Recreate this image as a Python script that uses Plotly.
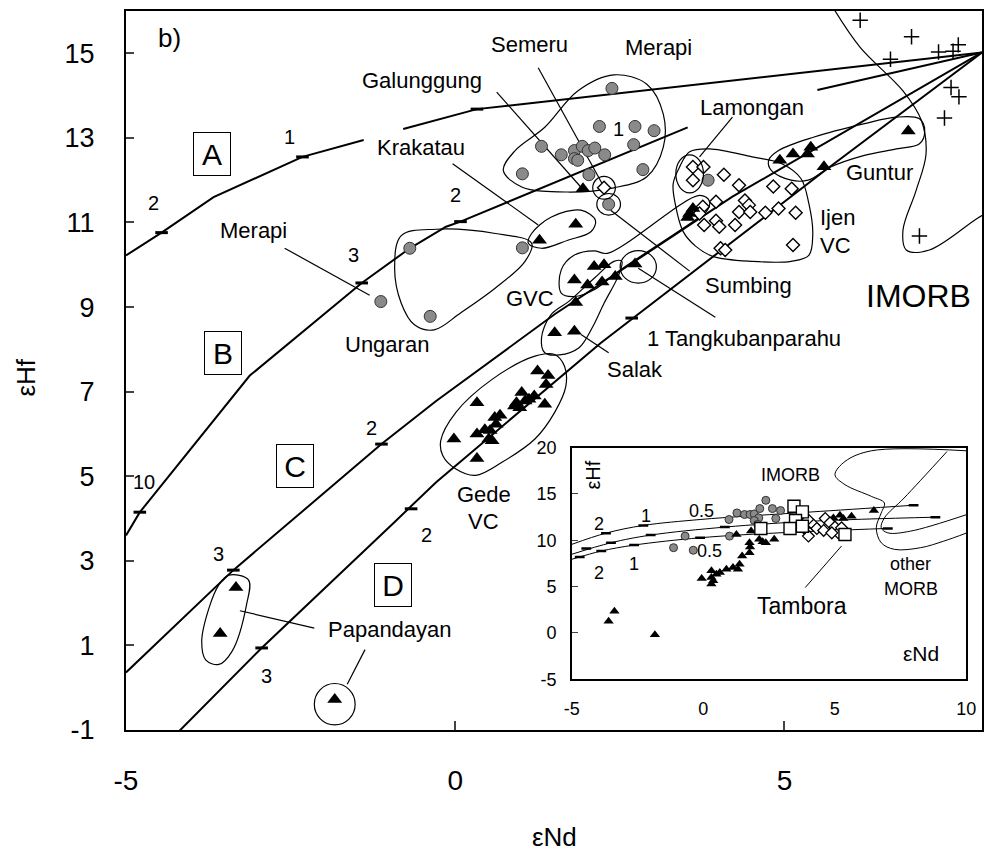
import plotly.graph_objects as go

FONT = "Liberation Sans, Arial, sans-serif"

# ---------------- main panel data ----------------
X_TICKS = [-5, 0, 5]
X_TICK_TEXT = ["-5", "0", "5"]
Y_TICKS = [-1, 1, 3, 5, 7, 9, 11, 13, 15]
Y_TICK_TEXT = ["-1", "1", "3", "5", "7", "9", "11", "13", "15"]

# mixing curves (None = break for labels)
CURVE1_X = [-5.0, -4.46, -3.67, -2.32, -1.39, None, -0.79, 0.33, 8.0]
CURVE1_Y = [10.22, 10.76, 11.6, 12.55, 12.95, None, 13.21, 13.68, 15.02]
CURVE2_X = [-5.0, -4.79, -3.12, -1.42, -0.69, -0.14, 0.08, 1.51, 3.53, None, 5.50, 8.0]
CURVE2_Y = [3.60, 4.15, 7.38, 9.57, 10.39, 10.9, 11.02, 11.94, 13.25, None, 14.13, 15.02]
CURVE3_X = [-5.0, -3.37, -1.12, -0.29, 1.51, 2.90, 4.21, 8.0]
CURVE3_Y = [0.36, 2.78, 5.76, 6.78, 8.83, 10.27, 11.61, 15.02]
CURVE4_X = [-4.29, -2.94, -0.92, -0.29, 2.21, 5.55, 8.0]
CURVE4_Y = [-1.18, 0.94, 3.92, 4.86, 8.15, 12.15, 15.02]

# tick dashes on curves
CTICK_X = [-4.46, -2.32, 0.33, -4.79, -1.42, 0.08, -3.37, -1.12, -2.94, -0.67, 2.68]
CTICK_Y = [10.76, 12.55, 13.68, 4.15, 9.57, 11.02, 2.78, 5.76, 0.94, 4.23, 8.74]
CTICK_LABELS = ["2", "1", "3", "2", "1", "10", "2", "3", "2", "3"]
CTICK_LX = [-4.59, -2.52, -1.54, 0.01, 2.48, -4.72, -1.27, -3.60, -0.44, -2.86]
CTICK_LY = [11.46, 13.02, 10.23, 11.64, 13.21, 4.86, 6.15, 3.17, 3.60, 0.27]

GREY_X = [2.38, 2.19, 2.73, 3.02, 1.31, 1.61, 1.81, 1.93, 2.02, 2.12, 1.81, 1.86,
          2.27, 2.71, 1.02, 2.03, 2.85, 2.33, 1.02, -0.69, -1.13, -0.38, 3.84]
GREY_Y = [14.17, 13.27, 13.27, 13.17, 12.80, 12.60, 12.70, 12.80, 12.70, 12.76, 12.51, 12.47,
          12.60, 12.84, 12.15, 12.13, 12.25, 11.43, 10.40, 10.39, 9.13, 8.78, 12.0]

TRI_X = [-3.33, -3.57, -1.83,
         1.25, 1.41, 1.38, 0.33, 1.01, 0.93, 1.06, 1.12, 0.90, 0.98, 1.36, 0.68, 0.60,
         0.62, 0.53, 0.33, 0.51, 0.56, -0.02, 0.33, 0.45, 1.20,
         1.51, 1.81, 1.83,
         2.11, 2.26, 1.81, 2.01, 2.23, 2.43,
         2.73, 1.28, 1.83, 1.94,
         3.56, 3.61, 3.53,
         4.93, 5.13, 5.35, 5.40, 5.60, 6.88]
TRI_Y = [2.37, 1.28, -0.28,
         7.49, 7.38, 7.17, 6.74, 6.98, 6.74, 6.78, 6.82, 6.66, 6.62, 6.70, 6.44, 6.39,
         6.23, 6.08, 6.00, 5.88, 5.84, 5.88, 5.42, 6.10, 6.90,
         8.39, 8.43, 9.11,
         9.96, 10.00, 9.64, 9.52, 9.59, 9.72,
         10.02, 10.58, 10.96, 11.80,
         11.21, 11.33, 11.12,
         12.47, 12.62, 12.62, 12.78, 12.32, 13.16]

DIA_X = [3.61, 3.77, 3.61, 4.08, 4.31, 3.96, 4.40, 4.46, 4.31, 4.48, 4.83, 5.11,
         3.76, 3.71, 3.96, 4.01, 3.78, 4.25, 4.71, 4.91, 5.17, 4.03, 4.10, 5.13, 2.26]
DIA_Y = [12.31, 12.31, 12.00, 12.13, 11.88, 11.49, 11.52, 11.41, 11.25, 11.25, 11.85, 11.80,
         11.37, 11.21, 11.04, 10.90, 10.94, 10.94, 11.23, 11.33, 11.23, 10.39, 10.35, 10.47, 11.82]

CROSS_X = [6.15, 6.93, 7.34, 7.56, 7.64, 6.61, 7.53, 7.65, 7.43, 7.05]
CROSS_Y = [15.78, 15.39, 15.03, 15.05, 15.20, 14.86, 14.19, 13.97, 13.47, 10.68]

# field outlines
MERAPI_OL_X = [2.41, 2.91, 3.16, 3.16, 2.91, 2.41, 1.71, 1.01, 0.73, 0.91, 1.36, 1.86, 2.41]
MERAPI_OL_Y = [14.49, 14.27, 13.56, 12.78, 12.08, 11.82, 11.72, 11.84, 12.23, 12.70, 13.25, 14.11, 14.49]
KRAKATAU_OL_X = [1.16, 1.46, 1.91, 2.13, 2.06, 1.71, 1.31, 1.11, 1.16]
KRAKATAU_OL_Y = [10.74, 11.13, 11.29, 11.05, 10.78, 10.58, 10.39, 10.51, 10.74]
UNGARAN_OL_X = [-0.82, -0.29, 0.61, 1.16, 1.06, 0.61, 0.08, -0.32, -0.62, -0.82, -0.92, -0.82]
UNGARAN_OL_Y = [10.69, 10.84, 10.74, 10.51, 10.08, 9.45, 8.86, 8.46, 8.58, 9.09, 9.92, 10.69]
GVC_OL_X = [1.61, 1.81, 2.11, 2.31, 3.71, 3.86, 3.83, 3.71, 2.51, 2.11, 1.81, 1.61, 1.61]
GVC_OL_Y = [9.88, 10.23, 10.33, 10.27, 11.64, 11.51, 11.29, 11.13, 9.88, 9.41, 9.25, 9.33, 9.88]
SALAK_OL_X = [1.31, 1.45, 1.73, 2.11, 2.41, 2.53, 2.48, 2.26, 2.08, 1.88, 1.58, 1.36, 1.31]
SALAK_OL_Y = [8.27, 8.81, 9.14, 9.68, 10.08, 10.08, 9.75, 9.09, 8.51, 8.04, 7.87, 7.92, 8.27]
GEDE_OL_X = [-0.22, 0.01, 0.56, 1.21, 1.51, 1.66, 1.68, 1.51, 1.21, 0.71, 0.31, 0.01, -0.19, -0.22]
GEDE_OL_Y = [5.84, 6.51, 7.29, 7.84, 7.88, 7.60, 7.13, 6.51, 5.88, 5.33, 5.02, 5.17, 5.49, 5.84]
PAPAND_OL_X = [-3.44, -3.14, -3.17, -3.39, -3.59, -3.79, -3.85, -3.74, -3.59, -3.44]
PAPAND_OL_Y = [2.66, 2.55, 1.96, 0.86, 0.55, 0.66, 1.09, 1.88, 2.43, 2.66]
IJEN_OL_X = [3.41, 3.56, 3.86, 4.51, 4.96, 5.25, 5.37, 5.43, 5.37, 5.10, 4.51, 3.91, 3.65, 3.46, 3.34, 3.31, 3.41]
IJEN_OL_Y = [12.32, 12.67, 12.74, 12.55, 12.39, 12.04, 11.45, 10.74, 10.22, 10.08, 10.08, 10.20, 10.44, 10.79, 11.45, 11.92, 12.32]
GUNTUR_OL_X = [4.76, 4.91, 5.45, 6.20, 6.70, 7.05, 7.13, 7.05, 6.70, 6.20, 5.70, 5.36, 5.10, 4.80, 4.76]
GUNTUR_OL_Y = [12.47, 12.70, 13.02, 13.33, 13.49, 13.45, 13.17, 12.86, 12.74, 12.58, 12.31, 12.00, 12.00, 12.23, 12.47]
IMORB_OL_X = [5.73, 6.15, 6.80, 7.08, 7.15, 7.00, 6.80, 6.85, 7.20, 7.92, 8.1]
IMORB_OL_Y = [16.1, 15.14, 14.11, 13.41, 12.62, 11.76, 10.82, 10.35, 10.35, 11.09, 11.25]

# ring outlines (centre, radii)
RING_CX = [2.26, 2.33, 2.78, -1.83, 3.56]
RING_CY = [11.82, 11.43, 9.95, -0.39, 12.15]
RING_RX = [0.172, 0.18, 0.275, 0.31, 0.21]
RING_RY = [0.27, 0.255, 0.385, 0.49, 0.45]

# leader lines
LEADER_X = [-2.59, -1.30, None, 0.63, 1.90, None, 1.26, 2.23, None, -0.04, 1.26, None,
            4.21, 3.71, None, 2.36, 3.56, None, 2.78, 3.95, None, 1.91, 2.33, None,
            -2.14, -3.27, None, -1.37, -1.64]
LEADER_Y = [10.39, 9.28, None, 14.08, 11.85, None, 14.66, 11.92, None, 12.39, 10.94, None,
            13.49, 12.55, None, 11.29, 9.85, None, 9.92, 8.76, None, 8.35, 7.92, None,
            1.41, 1.82, None, 0.90, 0.08]

# ---------------- inset data ----------------
IN_X_TICKS = [-5, 0, 5, 10]
IN_X_TICK_TEXT = ["-5", "0", "5", "10"]
IN_Y_TICKS = [-5, 0, 5, 10, 15, 20]
IN_Y_TICK_TEXT = ["-5", "0", "5", "10", "15", "20"]
IN_CA_X = [-5.0, -3.70, -2.28, -0.12, 1.63, 4.14, 8.0]
IN_CA_Y = [9.56, 10.77, 11.60, 12.24, 12.60, 13.06, 13.78]
IN_CB_X = [-5.0, -3.51, -2.0, 0.82, 4.14, 8.83]
IN_CB_Y = [8.49, 9.73, 10.56, 11.42, 12.06, 12.49]
IN_CC_X = [-5.0, -4.70, -3.88, -2.63, -0.12, 2.88, 7.02]
IN_CC_Y = [7.95, 8.20, 8.84, 9.48, 10.27, 10.80, 11.28]
IN_TICK_X = [-3.70, -2.28, 8.0, -4.45, -3.51, -2.0, 0.82, 8.83, -4.70, -3.88, -2.63, -0.12, 7.02]
IN_TICK_Y = [10.77, 11.60, 13.78, 9.10, 9.73, 10.56, 11.42, 12.49, 8.20, 8.84, 9.48, 10.27, 11.28]
IN_GREY_X = [2.38, 1.28, 1.57, 1.78, 1.94, 2.15, 2.11, 0.98, 2.63, 2.76, 2.94, 1.94, 2.07, 1.0, -0.69, -1.13, -0.38]
IN_GREY_Y = [14.31, 12.95, 12.78, 12.78, 12.84, 13.42, 12.41, 12.24, 13.42, 12.35, 13.21, 12.13, 11.71, 10.45, 10.45, 9.20, 8.92]
IN_TRI_X = [6.49, 5.20, 5.64, 5.33, 4.95, 1.82, 1.26, 2.70, 2.13, 2.26, 2.38, 1.76, 1.78, 1.76, 1.48,
            1.38, 1.32, 1.13, 0.88, 0.63, 0.50, 0.31, 0.31, -0.06, 0.31, 0.38, -3.38, -3.60, -1.84]
IN_TRI_Y = [13.21, 12.70, 12.60, 12.35, 12.41, 10.99, 10.63, 10.10, 10.10, 9.84, 9.73, 9.73, 9.27, 8.66, 8.30,
            7.41, 6.88, 7.05, 6.88, 6.51, 6.34, 6.70, 5.98, 5.87, 5.27, 5.62, 2.33, 1.26, -0.20]
IN_DIA_X = [3.98, 4.20, 4.0, 4.32, 4.64, 4.82, 4.58, 5.01, 5.14, 4.89, 3.82, 5.26]
IN_DIA_Y = [12.24, 11.63, 10.45, 11.27, 12.35, 11.88, 11.06, 11.42, 10.80, 10.80, 11.34, 11.34]
IN_SQ_X = [3.45, 3.77, 3.51, 3.30, 3.77, 2.19, 5.39]
IN_SQ_Y = [13.67, 13.06, 12.13, 11.27, 11.52, 11.27, 10.63]
IN_IMORB_X = [10.03, 6.39, 5.39, 5.01, 5.39, 6.39, 6.89, 6.77, 6.58, 6.77, 7.27, 8.27, 9.15, 10.03]
IN_IMORB_Y = [19.65, 19.65, 18.50, 17.07, 16.0, 14.74, 14.02, 12.95, 11.34, 9.73, 9.02, 9.20, 9.91, 10.80]
IN_OMORB_X = [9.27, 7.64, 6.89, 6.77, 7.02, 7.89, 10.03]
IN_OMORB_Y = [19.57, 14.56, 12.41, 11.34, 10.80, 10.99, 12.78]
IN_LEADER_X = [3.88, 5.26]
IN_LEADER_Y = [4.90, 9.38]

BLACK = "black"
GREY = "#8a8a8a"

fig = go.Figure()


def line_trace(xs, ys, width=2.0, xa="x", ya="y", shape="linear"):
    fig.add_trace(go.Scatter(x=xs, y=ys, mode="lines", xaxis=xa, yaxis=ya,
                             line=dict(color=BLACK, width=width, shape=shape),
                             hoverinfo="skip", showlegend=False))


# outlines
for ox, oy in [(MERAPI_OL_X, MERAPI_OL_Y), (KRAKATAU_OL_X, KRAKATAU_OL_Y), (UNGARAN_OL_X, UNGARAN_OL_Y),
               (GVC_OL_X, GVC_OL_Y), (SALAK_OL_X, SALAK_OL_Y), (GEDE_OL_X, GEDE_OL_Y),
               (PAPAND_OL_X, PAPAND_OL_Y), (IJEN_OL_X, IJEN_OL_Y), (GUNTUR_OL_X, GUNTUR_OL_Y),
               (IMORB_OL_X, IMORB_OL_Y)]:
    line_trace(ox, oy, width=1.2, shape="spline")

# mixing curves
for cx, cy in [(CURVE1_X, CURVE1_Y), (CURVE2_X, CURVE2_Y), (CURVE3_X, CURVE3_Y), (CURVE4_X, CURVE4_Y)]:
    line_trace(cx, cy, width=2.0)

# leader lines
line_trace(LEADER_X, LEADER_Y, width=1.2)

# curve ticks
fig.add_trace(go.Scatter(x=CTICK_X, y=CTICK_Y, mode="markers", showlegend=False, hoverinfo="skip",
                         marker=dict(symbol="line-ew", size=9, line=dict(color=BLACK, width=3))))

# samples
fig.add_trace(go.Scatter(x=CROSS_X, y=CROSS_Y, mode="markers", showlegend=False,
                         marker=dict(symbol="cross-thin", size=11, line=dict(color=BLACK, width=1.5))))
fig.add_trace(go.Scatter(x=DIA_X, y=DIA_Y, mode="markers", showlegend=False,
                         marker=dict(symbol="diamond", size=10, color="white", line=dict(color=BLACK, width=1.4))))
fig.add_trace(go.Scatter(x=GREY_X, y=GREY_Y, mode="markers", showlegend=False,
                         marker=dict(symbol="circle", size=12, color=GREY, line=dict(color="#333", width=1))))
fig.add_trace(go.Scatter(x=TRI_X, y=TRI_Y, mode="markers", showlegend=False,
                         marker=dict(symbol="triangle-up", size=13, color=BLACK, line=dict(width=0))))

# ---------------- inset traces ----------------
for cx, cy in [(IN_CA_X, IN_CA_Y), (IN_CB_X, IN_CB_Y), (IN_CC_X, IN_CC_Y)]:
    line_trace(cx, cy, width=1.0, xa="x2", ya="y2", shape="spline")
line_trace(IN_IMORB_X, IN_IMORB_Y, width=1.0, xa="x2", ya="y2", shape="spline")
line_trace(IN_OMORB_X, IN_OMORB_Y, width=1.0, xa="x2", ya="y2", shape="spline")
line_trace(IN_LEADER_X, IN_LEADER_Y, width=1.0, xa="x2", ya="y2")
fig.add_trace(go.Scatter(x=IN_TICK_X, y=IN_TICK_Y, mode="markers", xaxis="x2", yaxis="y2", showlegend=False,
                         marker=dict(symbol="line-ew", size=7, line=dict(color=BLACK, width=2.5))))
fig.add_trace(go.Scatter(x=IN_GREY_X, y=IN_GREY_Y, mode="markers", xaxis="x2", yaxis="y2", showlegend=False,
                         marker=dict(symbol="circle", size=8, color=GREY, line=dict(color="#333", width=1))))
fig.add_trace(go.Scatter(x=IN_TRI_X, y=IN_TRI_Y, mode="markers", xaxis="x2", yaxis="y2", showlegend=False,
                         marker=dict(symbol="triangle-up", size=9, color=BLACK)))
fig.add_trace(go.Scatter(x=IN_DIA_X, y=IN_DIA_Y, mode="markers", xaxis="x2", yaxis="y2", showlegend=False,
                         marker=dict(symbol="diamond", size=9, color="white", line=dict(color=BLACK, width=1.3))))
fig.add_trace(go.Scatter(x=IN_SQ_X, y=IN_SQ_Y, mode="markers", xaxis="x2", yaxis="y2", showlegend=False,
                         marker=dict(symbol="square", size=12, color="white", line=dict(color=BLACK, width=1.4))))

# ---------------- shapes ----------------
shapes = []
for cx, cy, rx, ry in zip(RING_CX, RING_CY, RING_RX, RING_RY):
    shapes.append(dict(type="circle", xref="x", yref="y", x0=cx - rx, x1=cx + rx, y0=cy - ry, y1=cy + ry,
                       line=dict(color=BLACK, width=1.2), layer="above"))
shapes.append(dict(type="rect", xref="x2 domain", yref="y2 domain", x0=0, x1=1, y0=0, y1=1,
                   fillcolor="white", line=dict(color=BLACK, width=1.5), layer="below"))

# ---------------- annotations ----------------
ann = []


def label(text, x, y, size=22, xa="x", ya="y", xanchor="center", **kw):
    ann.append(dict(text=text, x=x, y=y, xref=xa, yref=ya, showarrow=False, xanchor=xanchor,
                    yanchor="middle", font=dict(family=FONT, size=size, color=BLACK), **kw))


MAIN_LABELS = [("Galunggung", -0.50, 14.35), ("Semeru", 1.13, 15.21), ("Merapi", 3.08, 15.13),
               ("Krakatau", -0.52, 12.78), ("Lamongan", 4.50, 13.72), ("Merapi", -3.07, 10.82),
               ("Guntur", 6.45, 12.19), ("Sumbing", 4.46, 9.52), ("1 Tangkubanparahu", 4.38, 8.25),
               ("Salak", 2.73, 7.52), ("GVC", 1.13, 9.21), ("Gede", 0.43, 4.56), ("VC", 0.43, 3.92),
               ("Ungaran", -1.04, 8.11), ("Papandayan", -0.99, 1.37)]
for t, x, y in MAIN_LABELS:
    label(t, x, y)
label("Ijen", 5.51, 11.12, xanchor="left")
label("VC", 5.51, 10.45, xanchor="left")
label("IMORB", 7.03, 9.25, size=32)
label("b)", -4.34, 15.37, size=26)
for t, x, y in zip(CTICK_LABELS, CTICK_LX, CTICK_LY):
    label(t, x, y, size=20)
for t, x, y in [("A", -3.70, 12.62), ("B", -3.52, 7.92), ("C", -2.44, 5.25), ("D", -0.95, 2.43)]:
    label(t, x, y, size=30, bordercolor=BLACK, borderwidth=1, borderpad=0, width=36, height=42)

# inset labels
INSET_LABELS = [("IMORB", 3.32, 17.07, 18), ("other", 7.89, 7.41, 18), ("MORB", 7.89, 4.73, 18),
                ("Tambora", 3.76, 2.94, 23), ("εNd", 8.27, -2.2, 21),
                ("2", -3.95, 11.71, 18), ("1", -2.19, 12.6, 18), ("0.5", -0.06, 13.13, 18),
                ("0.5", 0.25, 8.84, 18), ("1", -2.63, 7.41, 18), ("2", -3.95, 6.51, 18)]
for t, x, y, s in INSET_LABELS:
    label(t, x, y, size=s, xa="x2", ya="y2")
label("εHf", -4.2, 17.07, size=20, xa="x2", ya="y2", textangle=-90)

# axis titles
label("εNd", 0.5, -0.149, size=26, xa="paper", ya="paper")
label("εHf", -0.117, 0.49, size=26, xa="paper", ya="paper", textangle=-90)

fig.update_layout(
    width=993, height=865,
    margin=dict(l=126, r=1, t=7, b=135),
    paper_bgcolor="white", plot_bgcolor="white",
    showlegend=False,
    font=dict(family=FONT, color=BLACK),
    shapes=shapes, annotations=ann,
    xaxis=dict(range=[-5, 8], tickvals=X_TICKS, ticktext=X_TICK_TEXT, ticks="inside", ticklen=9, tickwidth=1.5,
               showline=True, linecolor=BLACK, linewidth=2, mirror=True, showgrid=False, zeroline=False,
               tickfont=dict(size=28), ticklabelstandoff=24, domain=[0, 1]),
    yaxis=dict(range=[-1, 16], tickvals=Y_TICKS, ticktext=Y_TICK_TEXT, ticks="inside", ticklen=8, tickwidth=1.5,
               showline=True, linecolor=BLACK, linewidth=2, mirror=True, showgrid=False, zeroline=False,
               tickfont=dict(size=27), ticklabelstandoff=24, domain=[0, 1]),
    xaxis2=dict(range=[-5, 10], tickvals=IN_X_TICKS, ticktext=IN_X_TICK_TEXT, ticks="", anchor="y2",
                domain=[0.5208, 0.9815], showline=True, linecolor=BLACK, linewidth=1.5, mirror=True,
                showgrid=False, zeroline=False, tickfont=dict(size=18), ticklabelstandoff=12),
    yaxis2=dict(range=[-5, 20], tickvals=IN_Y_TICKS, ticktext=IN_Y_TICK_TEXT, ticks="inside", ticklen=6,
                anchor="x2", domain=[0.0705, 0.3928], showline=True, linecolor=BLACK, linewidth=1.5,
                mirror=True, showgrid=False, zeroline=False, tickfont=dict(size=18), ticklabelstandoff=10),
)

fig.write_html("out.html")
